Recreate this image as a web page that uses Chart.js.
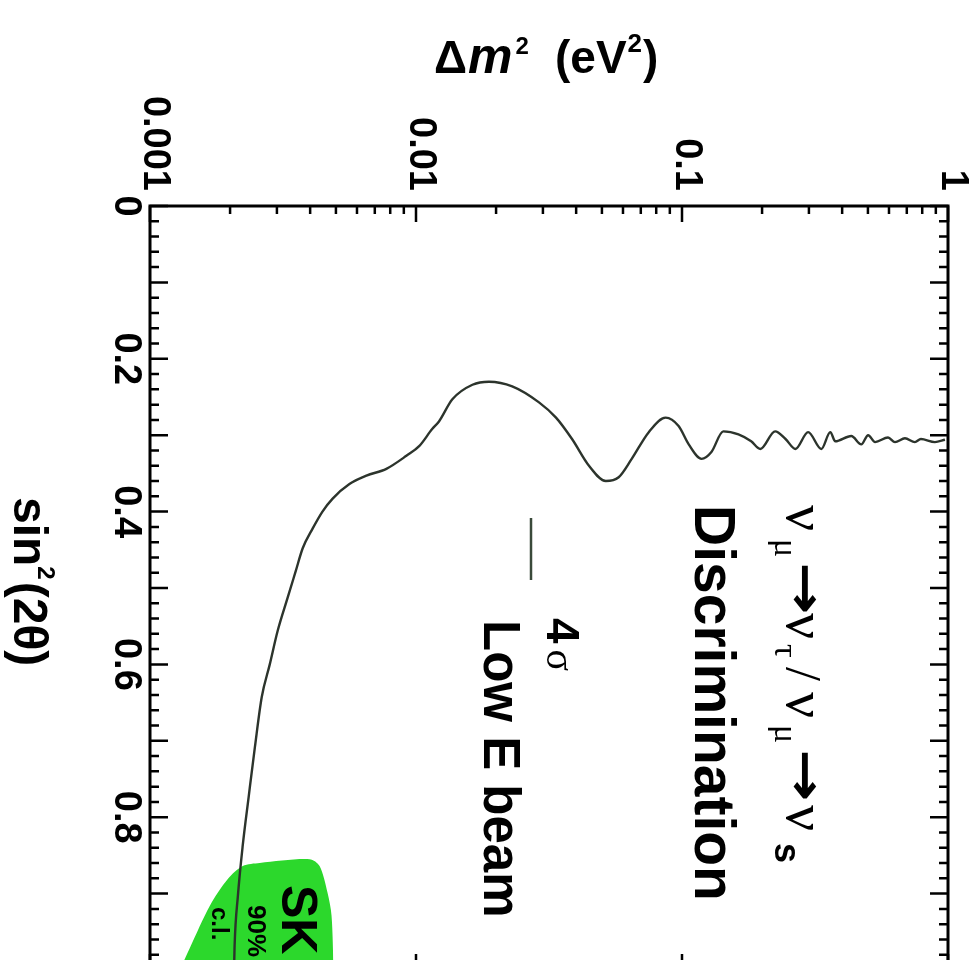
<!DOCTYPE html>
<html>
<head>
<meta charset="utf-8">
<script src="https://cdn.jsdelivr.net/npm/chart.js@4.4.0/dist/chart.umd.min.js"></script>
<style>
  html, body { margin: 0; padding: 0; background: #fff; overflow: hidden; }
  canvas { display: block; }
</style>
</head>
<body>
<canvas id="Chart" width="974" height="1000"></canvas>
<script>
// 4 sigma low E beam discrimination curve (delta m^2 vs sin^2(2 theta))
const dm2 = [0.00207, 0.00208, 0.00214, 0.00223, 0.00235, 0.00248, 0.00263, 0.00282, 0.00302, 0.00329,
  0.00353, 0.00375, 0.00409, 0.00445, 0.00486, 0.00562, 0.00651, 0.00774, 0.0092, 0.0103,
  0.0115, 0.0122, 0.0137, 0.0163, 0.0188, 0.023, 0.029, 0.0336, 0.0386, 0.0447,
  0.0517, 0.0578, 0.0647, 0.075, 0.0868, 0.0971, 0.106, 0.1185, 0.129, 0.143,
  0.163, 0.182, 0.197, 0.224, 0.245, 0.267, 0.298, 0.334, 0.361, 0.377,
  0.433, 0.472, 0.501, 0.532, 0.595, 0.632, 0.689, 0.751, 0.791, 0.893, 0.974];
const sin2 = [1.0, 0.968, 0.903, 0.838, 0.773, 0.708, 0.643, 0.600, 0.556, 0.513,
  0.478, 0.448, 0.422, 0.400, 0.383, 0.364, 0.353, 0.344, 0.327, 0.314,
  0.292, 0.282, 0.253, 0.234, 0.230, 0.236, 0.257, 0.277, 0.305, 0.340,
  0.360, 0.355, 0.331, 0.296, 0.277, 0.288, 0.312, 0.331, 0.322, 0.295,
  0.299, 0.308, 0.318, 0.295, 0.305, 0.318, 0.296, 0.318, 0.296, 0.308,
  0.301, 0.312, 0.300, 0.309, 0.303, 0.309, 0.304, 0.309, 0.305, 0.309, 0.306];

// SK 90% c.l. allowed region (upper edge, filled down to sin^2 = 1)
const skDm2 = [0.001296, 0.001413, 0.001679, 0.001961, 0.002233, 0.002584, 0.003981, 0.00434, 0.00465, 0.004814, 0.004898];
const skSin2 = [1.0, 0.971, 0.916, 0.881, 0.864, 0.860, 0.855, 0.864, 0.899, 0.929, 1.0];

const xTickValues = [0.001, 0.01, 0.1, 1];
const xTickLabels = ['0.001', '0.01', '0.1', '1'];
const yTickValues = [0, 0.2, 0.4, 0.6, 0.8, 1];
const yTickLabels = ['0', '0.2', '0.4', '0.6', '0.8', '1'];

const SANS = '"Liberation Sans", Arial, sans-serif';
const SERIF = '"Liberation Serif", "DejaVu Serif", serif';

// draw a run of text pieces, rotated 90deg clockwise, starting at (x, y)
function rotRun(ctx, x, y, pieces) {
  ctx.save();
  ctx.translate(x, y);
  ctx.rotate(Math.PI / 2);
  ctx.textAlign = 'left';
  ctx.textBaseline = 'alphabetic';
  let pos = 0;
  for (const p of pieces) {
    ctx.font = p.font;
    if (p.at !== undefined) pos = p.at;
    const sx = p.sx || 1;
    ctx.save();
    ctx.translate(pos, p.dy || 0);
    ctx.scale(sx, 1);
    ctx.fillText(p.t, 0, 0);
    ctx.restore();
    pos += ctx.measureText(p.t).width * sx + (p.gap || 0);
  }
  ctx.restore();
}

// same thing, horizontal
function run(ctx, x, y, pieces) {
  ctx.textAlign = 'left';
  ctx.textBaseline = 'alphabetic';
  let pos = x;
  for (const p of pieces) {
    ctx.font = p.font;
    ctx.fillText(p.t, pos, y + (p.dy || 0));
    pos += ctx.measureText(p.t).width + (p.gap || 0);
  }
}

const decor = {
  id: 'decor',
  afterDatasetsDraw(chart) {
    const ctx = chart.ctx;
    const a = chart.chartArea;
    const x = chart.scales.x, y = chart.scales.y;
    ctx.save();
    ctx.strokeStyle = '#000';
    ctx.fillStyle = '#000';

    // frame
    ctx.lineWidth = 3;
    ctx.strokeRect(a.left, a.top, a.right - a.left, a.bottom - a.top);

    // x ticks (log): top and bottom, pointing inward
    ctx.lineWidth = 2.5;
    for (let e = -3; e <= 0; e++) {
      for (let m = 1; m <= 9; m++) {
        const v = m * Math.pow(10, e);
        if (v > 1.0001) break;
        const px = x.getPixelForValue(v);
        const L = m === 1 ? 16 : 8;
        ctx.beginPath();
        ctx.moveTo(px, a.top); ctx.lineTo(px, a.top + L);
        ctx.moveTo(px, a.bottom); ctx.lineTo(px, a.bottom - L);
        ctx.stroke();
      }
    }
    // y ticks: left and right
    for (let i = 0; i <= 50; i++) {
      const py = y.getPixelForValue(i * 0.02);
      const L = i % 5 === 0 ? 18 : 9;
      ctx.beginPath();
      ctx.moveTo(a.left, py); ctx.lineTo(a.left + L, py);
      ctx.moveTo(a.right, py); ctx.lineTo(a.right - L, py);
      ctx.stroke();
    }

    // x tick labels (rotated)
    xTickValues.forEach((v, i) => {
      const px = x.getPixelForValue(v);
      ctx.save();
      ctx.translate(px + 4, 191);
      ctx.rotate(Math.PI / 2);
      ctx.font = 'bold 38px ' + SANS;
      ctx.textAlign = 'right';
      ctx.textBaseline = 'middle';
      ctx.fillText(xTickLabels[i], 0, 0);
      ctx.restore();
    });
    // y tick labels (rotated)
    yTickValues.forEach((v, i) => {
      const py = y.getPixelForValue(v);
      ctx.save();
      ctx.translate(125, py);
      ctx.rotate(Math.PI / 2);
      ctx.font = 'bold 38px ' + SANS;
      ctx.textAlign = 'center';
      ctx.textBaseline = 'middle';
      ctx.fillText(yTickLabels[i], 0, 0);
      ctx.restore();
    });

    // x axis title (horizontal)
    run(ctx, 434, 73, [
      { t: '\u0394', font: 'bold 46px ' + SANS, gap: 1 },
      { t: 'm', font: 'italic bold 50px ' + SANS, gap: 3 },
      { t: '2', font: 'bold 24px ' + SANS, dy: -19 }
    ]);
    run(ctx, 555, 73, [
      { t: '(eV', font: 'bold 46px ' + SANS, gap: 1 },
      { t: '2', font: 'bold 26px ' + SANS, dy: -21, gap: 1 },
      { t: ')', font: 'bold 46px ' + SANS }
    ]);

    // y axis title
    rotRun(ctx, 14, 497, [
      { t: 'sin', font: 'bold 48px ' + SANS },
      { t: '2', font: 'bold 24px ' + SANS, dy: -24, gap: 2 },
      { t: '(2\u03b8)', font: 'bold 48px ' + SANS }
    ]);

    // process label
    const nu = '58px ' + SERIF, sub = '34px ' + SERIF, arr = 'bold 50px "DejaVu Sans", sans-serif';
    rotRun(ctx, 787, 505, [
      { t: '\u03bd', font: nu, at: 0 },
      { t: '\u03bc', font: sub, dy: 12, at: 34 },
      { t: '\u2192', font: arr, dy: -2, at: 57, sx: 1.25 },
      { t: '\u03bd', font: nu, at: 108 },
      { t: '\u03c4', font: sub, dy: 12, at: 139 },
      { t: '/', font: '50px ' + SERIF, at: 162 },
      { t: '\u03bd', font: nu, at: 187 },
      { t: '\u03bc', font: sub, dy: 12, at: 220 },
      { t: '\u2192', font: arr, dy: -2, at: 244, sx: 1.25 },
      { t: '\u03bd', font: nu, at: 300 },
      { t: 's', font: 'bold 36px ' + SANS, dy: 12, at: 338 }
    ]);
    rotRun(ctx, 695, 505, [{ t: 'Discrimination', font: 'bold 57px ' + SANS }]);

    // legend: line + 4 sigma + Low E beam
    ctx.strokeStyle = '#3a4a3a';
    ctx.lineWidth = 2.5;
    ctx.beginPath();
    ctx.moveTo(531, 518); ctx.lineTo(531, 580);
    ctx.stroke();
    rotRun(ctx, 547, 618, [
      { t: '4', font: 'bold 46px ' + SANS, gap: 6 },
      { t: '\u03c3', font: '40px ' + SERIF }
    ]);
    rotRun(ctx, 484, 620, [{ t: 'Low E beam', font: 'bold 51px ' + SANS }]);

    // SK region labels
    rotRun(ctx, 282, 885, [{ t: 'SK', font: 'bold 50px ' + SANS }]);
    rotRun(ctx, 248, 905, [{ t: '90%', font: 'bold 26px ' + SANS }]);
    rotRun(ctx, 212, 907, [{ t: 'c.l.', font: 'bold 24px ' + SANS }]);

    ctx.restore();
  }
};

const ctx = document.getElementById('Chart').getContext('2d');
const myChart = new Chart(ctx, {
  type: 'line',
  data: {
    datasets: [{
      label: '4 sigma Low E beam',
      data: dm2.map((v, i) => ({ x: v, y: sin2[i] })),
      borderColor: '#2c342c',
      borderWidth: 2.4,
      pointRadius: 0,
      cubicInterpolationMode: 'monotone',
      fill: false
    }, {
      label: 'SK 90% c.l.',
      data: skDm2.map((v, i) => ({ x: v, y: skSin2[i] })),
      borderWidth: 0,
      borderColor: 'rgba(0,0,0,0)',
      backgroundColor: '#2cd82c',
      pointRadius: 0,
      tension: 0.3,
      fill: { value: 1 }
    }]
  },
  options: {
    responsive: false,
    animation: false,
    layout: { padding: { left: 150, top: 206, right: 26, bottom: 30 } },
    plugins: { legend: { display: false }, tooltip: { enabled: false } },
    scales: {
      x: { type: 'logarithmic', min: 0.001, max: 1, display: false },
      y: { type: 'linear', min: 0, max: 1, reverse: true, display: false }
    }
  },
  plugins: [decor]
});
</script>
</body>
</html>
